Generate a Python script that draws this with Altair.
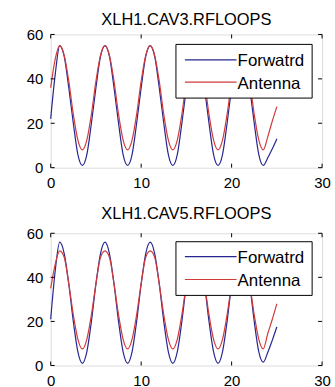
import altair as alt
import pandas as pd

FONT = "Liberation Sans"

x_vals = [0, 0.5, 1, 1.5, 2, 2.5, 3, 3.5, 4, 4.5,
          5, 5.5, 6, 6.5, 7, 7.5, 8, 8.5, 9, 9.5,
          10, 10.5, 11, 11.5, 12, 12.5, 13, 13.5, 14, 14.5,
          15, 15.5, 16, 16.5, 17, 17.5, 18, 18.5, 19, 19.5,
          20, 20.5, 21, 21.5, 22, 22.5, 23, 23.5, 24, 24.5, 25]

fwd_cav3 = [22, 42,
            55, 50, 36, 20, 6, 1, 6, 20, 36, 50,
            55, 50, 36, 20, 6, 1, 6, 20, 36, 50,
            55, 50, 36, 20, 6, 1, 6, 20, 36, 50,
            55, 50, 36, 20, 6, 1, 6, 20, 36, 50,
            55, 50, 36, 20, 6, 1, 4.5, 8.5, 13]
ant_cav3 = [36, 49,
            55, 50.5, 39, 24, 12.5, 8, 12.5, 24, 39, 50.5,
            55, 50.5, 39, 24, 12.5, 8, 12.5, 24, 39, 50.5,
            55, 50.5, 39, 24, 12.5, 8, 12.5, 24, 39, 50.5,
            55, 50.5, 39, 24, 12.5, 8, 12.5, 24, 39, 50.5,
            55, 50.5, 39, 24, 12.5, 8, 14, 21, 27.5]
fwd_cav5 = [21, 43,
            56, 50.7, 37, 20, 6.3, 1, 6.3, 20, 37, 50.7,
            56, 50.7, 37, 20, 6.3, 1, 6.3, 20, 37, 50.7,
            56, 50.7, 37, 20, 6.3, 1, 6.3, 20, 37, 50.7,
            56, 50.7, 37, 20, 6.3, 1, 6.3, 20, 37, 50.7,
            56, 50.7, 37, 20, 6.3, 1.5, 6, 11.5, 17.5]
ant_cav5 = [35, 46,
            52, 49, 37, 23, 12, 7.5, 12, 23, 37, 49,
            52, 49, 37, 23, 12, 7.5, 12, 23, 37, 49,
            52, 49, 37, 23, 12, 7.5, 12, 23, 37, 49,
            52, 49, 37, 23, 12, 7.5, 12, 23, 37, 49,
            52, 49, 37, 23, 12, 7.5, 14.5, 21, 28]

series_names = ["Forwatrd", "Antenna"]
series_colors = ["#262690", "#d23a3a"]
titles = ["XLH1.CAV3.RFLOOPS", "XLH1.CAV5.RFLOOPS"]
x_ticks = [0, 10, 20, 30]
y_ticks = [0, 20, 40, 60]

W = 273


def one_row():
    return pd.DataFrame({"k": [0]})


def panel(title, fwd, ant, H, title_gap, leg_top, row_y):
    n = len(x_vals)
    df = pd.DataFrame({
        "t": x_vals + x_vals,
        "v": fwd + ant,
        "s": [series_names[0]] * n + [series_names[1]] * n,
    })
    xs = alt.Scale(domain=[0, 30], nice=False, zero=False)
    ys = alt.Scale(domain=[0, 60], nice=False)
    xaxis = alt.Axis(values=x_ticks, ticks=False, tickSize=0, domain=False, grid=False,
                     labelPadding=8, title=None, labelFontSize=15, labelFont=FONT,
                     labelColor="#000", labelFlush=False, format="d")
    yaxis = alt.Axis(values=y_ticks, ticks=False, tickSize=0, domain=False, grid=False,
                     labelPadding=8, title=None, labelFontSize=15, labelFont=FONT,
                     labelColor="#000", labelFlush=False, format="d")

    lines = alt.Chart(df).mark_line(strokeWidth=1.2, interpolate="monotone").encode(
        x=alt.X("t:Q", scale=xs, axis=xaxis),
        y=alt.Y("v:Q", scale=ys, axis=yaxis),
        color=alt.Color("s:N", scale=alt.Scale(domain=series_names, range=series_colors), legend=None),
    )

    tx = pd.DataFrame({"t": x_ticks})
    ty = pd.DataFrame({"v": y_ticks})
    tl = 4
    bottom_t = alt.Chart(tx).mark_rule(color="#000", strokeWidth=1).encode(
        x=alt.X("t:Q", scale=xs, axis=xaxis), y=alt.value(H), y2=alt.value(H - tl))
    top_t = alt.Chart(tx).mark_rule(color="#000", strokeWidth=1).encode(
        x=alt.X("t:Q", scale=xs, axis=xaxis), y=alt.value(0), y2=alt.value(tl))
    left_t = alt.Chart(ty).mark_rule(color="#000", strokeWidth=1).encode(
        y=alt.Y("v:Q", scale=ys, axis=yaxis), x=alt.value(0), x2=alt.value(tl))
    right_t = alt.Chart(ty).mark_rule(color="#000", strokeWidth=1).encode(
        y=alt.Y("v:Q", scale=ys, axis=yaxis), x=alt.value(W), x2=alt.value(W - tl))

    box = alt.Chart(one_row()).mark_rect(fill="white", stroke="#000", strokeWidth=1).encode(
        x=alt.value(126), x2=alt.value(263), y=alt.value(leg_top), y2=alt.value(leg_top + 54))

    title_mark = alt.Chart(one_row()).mark_text(
        align="center", baseline="alphabetic", fontSize=16.5, font=FONT, color="#000", text=title
    ).encode(x=alt.value(W / 2), y=alt.value(-title_gap))

    layers = [lines, bottom_t, top_t, left_t, right_t, box, title_mark]
    for i, name in enumerate(series_names):
        layers.append(alt.Chart(one_row()).mark_rule(color=series_colors[i], strokeWidth=1.2).encode(
            x=alt.value(135), x2=alt.value(187), y=alt.value(row_y[i])))
        layers.append(alt.Chart(one_row()).mark_text(
            align="left", baseline="alphabetic", fontSize=17, font=FONT, color="#000", text=name
        ).encode(x=alt.value(188), y=alt.value(row_y[i] + 6.5)))

    return alt.layer(*layers).properties(width=W, height=H)


top = panel(titles[0], fwd_cav3, ant_cav3, 134, 9.5, 10, [25.5, 48])
bottom = panel(titles[1], fwd_cav5, ant_cav5, 133, 14, 8.5, [23.5, 46.5])

chart = alt.vconcat(top, bottom, spacing=66, bounds="flush").properties(
    padding={"left": 25, "top": 10.5, "right": 4, "bottom": 0}
).configure_view(stroke="#000", strokeWidth=1, fill="white").configure(background="white")

chart.save("out.html", embed_options={"renderer": "svg", "actions": False})
